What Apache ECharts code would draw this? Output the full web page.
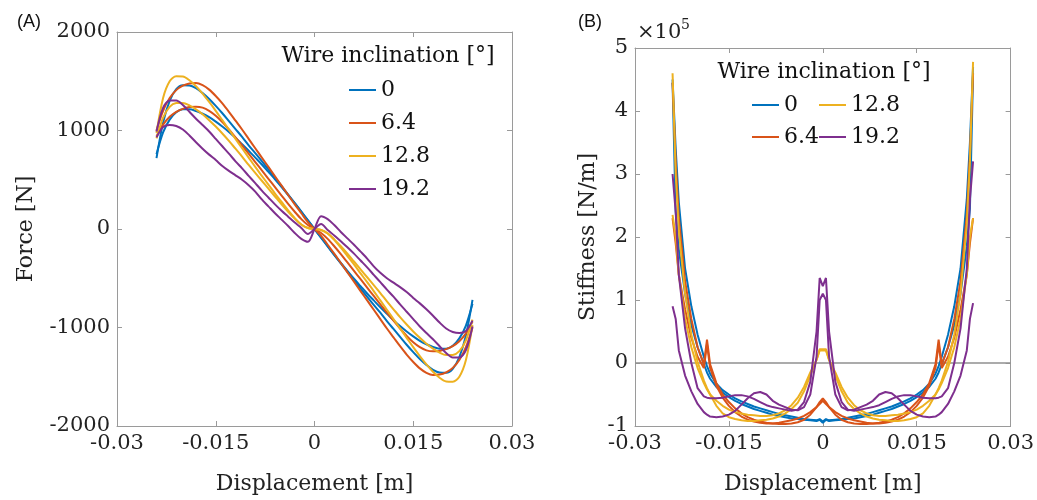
<!DOCTYPE html>
<html>
<head>
<meta charset="utf-8">
<script src="https://cdn.jsdelivr.net/npm/echarts@6/dist/echarts.min.js"></script>
<style>html,body{margin:0;padding:0;background:#fff}#c{width:1037px;height:500px}</style>
</head>
<body>
<div id="c"></div>
<script>
// ---------- data ----------
const seriesNames = ['0', '6.4', '12.8', '19.2'];
const colors = ['#0072BD', '#D95319', '#EDB120', '#7E2F8E'];

const xTickLabels = ['-0.03', '-0.015', '0', '0.015', '0.03'];
const yTickLabelsA = ['-2000', '-1000', '0', '1000', '2000'];
const yTickLabelsB = ['-1', '0', '1', '2', '3', '4', '5'];

// Panel A: displacement [m]
const xA = [-0.024,-0.023,-0.022,-0.021,-0.020,-0.019,-0.018,-0.017,-0.016,-0.015,-0.014,-0.013,-0.012,-0.011,-0.010,-0.009,-0.008,-0.007,-0.006,-0.005,-0.004,-0.003,-0.002,-0.001,0,0.001,0.002,0.003,0.004,0.005,0.006,0.007,0.008,0.009,0.010,0.011,0.012,0.013,0.014,0.015,0.016,0.017,0.018,0.019,0.020,0.021,0.022,0.023,0.024];

// Force [N], two curves per wire inclination
const forceBlue1 = [720,1080,1300,1420,1460,1458,1430,1380,1320,1250,1175,1095,1015,935,850,770,690,605,520,435,350,262,175,88,0,-88,-175,-262,-350,-435,-520,-605,-690,-770,-850,-935,-1015,-1095,-1175,-1250,-1320,-1380,-1430,-1458,-1460,-1420,-1300,-1080,-720];
const forceBlue2 = [760,980,1110,1185,1215,1215,1198,1170,1135,1090,1040,985,925,860,795,725,655,580,505,425,345,262,176,88,0,-88,-176,-262,-345,-425,-505,-580,-655,-725,-795,-860,-925,-985,-1040,-1090,-1135,-1170,-1198,-1215,-1215,-1185,-1110,-980,-760];
const forceOrange1 = [1000,1200,1330,1410,1455,1478,1482,1460,1415,1350,1275,1190,1100,1010,915,820,725,630,535,440,345,250,160,70,0,-70,-160,-250,-345,-440,-535,-630,-725,-820,-915,-1010,-1100,-1190,-1275,-1350,-1415,-1460,-1482,-1478,-1455,-1410,-1330,-1200,-1000];
const forceOrange2 = [940,1060,1140,1190,1220,1238,1242,1232,1200,1150,1085,1010,930,850,765,680,595,510,425,340,255,175,100,40,0,-40,-100,-175,-255,-340,-425,-510,-595,-680,-765,-850,-930,-1010,-1085,-1150,-1200,-1232,-1242,-1238,-1220,-1190,-1140,-1060,-940];
const forceYellow1 = [975,1330,1500,1550,1548,1510,1450,1375,1290,1200,1105,1010,915,820,725,630,540,450,360,275,190,110,45,10,0,-10,-45,-110,-190,-275,-360,-450,-540,-630,-725,-820,-915,-1010,-1105,-1200,-1290,-1375,-1450,-1510,-1548,-1550,-1500,-1330,-975];
const forceYellow2 = [920,1130,1240,1278,1280,1255,1215,1165,1105,1040,970,895,815,735,650,570,490,410,330,250,175,105,45,10,0,-10,-45,-105,-175,-250,-330,-410,-490,-570,-650,-735,-815,-895,-970,-1040,-1105,-1165,-1215,-1255,-1280,-1278,-1240,-1130,-920];
const forcePurple1 = [990,1230,1305,1305,1260,1190,1120,1055,990,915,840,765,687,615,540,465,390,320,250,185,125,65,10,-50,0,50,-10,-65,-125,-185,-250,-320,-390,-465,-540,-615,-687,-765,-840,-915,-990,-1055,-1120,-1190,-1260,-1305,-1305,-1230,-990];
const forcePurple2 = [930,1035,1056,1045,1010,950,880,815,755,700,640,590,545,500,445,380,300,230,160,95,30,-40,-100,-130,0,130,100,40,-30,-95,-160,-230,-300,-380,-445,-500,-545,-590,-640,-700,-755,-815,-880,-950,-1010,-1045,-1056,-1035,-930];

// Panel B: displacement [m]
const xB = [-0.024,-0.0235,-0.023,-0.022,-0.021,-0.020,-0.019,-0.0185,-0.018,-0.017,-0.016,-0.015,-0.014,-0.013,-0.012,-0.011,-0.010,-0.009,-0.008,-0.007,-0.006,-0.005,-0.004,-0.003,-0.002,-0.001,-0.0005,0,0.0005,0.001,0.002,0.003,0.004,0.005,0.006,0.007,0.008,0.009,0.010,0.011,0.012,0.013,0.014,0.015,0.016,0.017,0.018,0.0185,0.019,0.020,0.021,0.022,0.023,0.0235,0.024];

// Stiffness [x 1e5 N/m]
const stiffBlue1 = [4.5,3.4,2.55,1.5,0.9,0.45,0.1,-0.05,-0.17,-0.33,-0.43,-0.5,-0.56,-0.61,-0.65,-0.69,-0.72,-0.75,-0.78,-0.81,-0.83,-0.85,-0.87,-0.89,-0.9,-0.91,-0.89,-0.93,-0.89,-0.91,-0.9,-0.89,-0.87,-0.85,-0.83,-0.81,-0.78,-0.75,-0.72,-0.69,-0.65,-0.61,-0.56,-0.5,-0.43,-0.33,-0.17,-0.05,0.1,0.45,0.9,1.5,2.6,3.5,4.7];
const stiffBlue2 = [4.45,2.4,1.8,1.1,0.6,0.25,-0.02,-0.15,-0.25,-0.38,-0.47,-0.54,-0.6,-0.65,-0.69,-0.73,-0.76,-0.79,-0.82,-0.84,-0.86,-0.88,-0.89,-0.9,-0.91,-0.92,-0.9,-0.95,-0.9,-0.92,-0.91,-0.9,-0.89,-0.88,-0.86,-0.84,-0.82,-0.79,-0.76,-0.73,-0.69,-0.65,-0.6,-0.54,-0.47,-0.38,-0.25,-0.15,-0.02,0.25,0.6,1.1,1.85,2.45,4.6];
const stiffOrange1 = [4.45,3.2,2.3,1.3,0.7,0.25,-0.02,0.37,-0.02,-0.32,-0.5,-0.62,-0.72,-0.8,-0.86,-0.9,-0.93,-0.95,-0.96,-0.97,-0.97,-0.96,-0.94,-0.9,-0.82,-0.7,-0.62,-0.56,-0.62,-0.7,-0.82,-0.9,-0.94,-0.96,-0.97,-0.97,-0.96,-0.95,-0.93,-0.9,-0.86,-0.8,-0.72,-0.62,-0.5,-0.32,-0.02,0.37,-0.02,0.25,0.7,1.3,2.35,3.3,4.6];
const stiffOrange2 = [2.3,1.9,1.4,0.85,0.4,0.1,-0.08,0.3,-0.08,-0.36,-0.55,-0.68,-0.78,-0.85,-0.9,-0.93,-0.95,-0.96,-0.96,-0.95,-0.93,-0.91,-0.88,-0.84,-0.78,-0.7,-0.65,-0.6,-0.65,-0.7,-0.78,-0.84,-0.88,-0.91,-0.93,-0.95,-0.96,-0.96,-0.95,-0.93,-0.9,-0.85,-0.78,-0.68,-0.55,-0.36,-0.08,0.3,-0.08,0.1,0.4,0.85,1.4,1.9,2.3];
const stiffYellow1 = [4.6,3.0,2.1,1.1,0.45,0.02,-0.28,-0.4,-0.5,-0.68,-0.8,-0.86,-0.89,-0.91,-0.92,-0.92,-0.91,-0.9,-0.88,-0.85,-0.8,-0.73,-0.63,-0.45,-0.2,0.05,0.22,0.22,0.22,0.05,-0.2,-0.45,-0.63,-0.73,-0.8,-0.85,-0.88,-0.9,-0.91,-0.92,-0.92,-0.91,-0.89,-0.86,-0.8,-0.68,-0.5,-0.4,-0.28,0.02,0.45,1.1,2.2,3.2,4.78];
const stiffYellow2 = [2.35,2.0,1.4,0.7,0.25,-0.08,-0.32,-0.42,-0.5,-0.6,-0.68,-0.74,-0.78,-0.8,-0.82,-0.83,-0.84,-0.84,-0.83,-0.8,-0.75,-0.67,-0.55,-0.38,-0.15,0.05,0.2,0.2,0.2,0.05,-0.15,-0.38,-0.55,-0.67,-0.75,-0.8,-0.83,-0.84,-0.84,-0.83,-0.82,-0.8,-0.78,-0.74,-0.68,-0.6,-0.5,-0.42,-0.32,-0.08,0.25,0.7,1.4,2.0,2.3];
const stiffPurple1 = [3.0,2.4,1.4,0.55,0.0,-0.4,-0.53,-0.55,-0.56,-0.56,-0.55,-0.53,-0.51,-0.51,-0.53,-0.57,-0.62,-0.67,-0.7,-0.72,-0.74,-0.76,-0.74,-0.62,-0.3,0.5,1.35,1.22,1.35,0.5,-0.3,-0.62,-0.74,-0.76,-0.74,-0.72,-0.7,-0.67,-0.62,-0.57,-0.53,-0.51,-0.51,-0.53,-0.55,-0.56,-0.56,-0.55,-0.53,-0.4,0.0,0.55,1.5,2.6,3.2];
const stiffPurple2 = [0.9,0.7,0.2,-0.2,-0.45,-0.65,-0.78,-0.82,-0.85,-0.86,-0.85,-0.82,-0.76,-0.66,-0.56,-0.48,-0.46,-0.5,-0.6,-0.66,-0.7,-0.74,-0.75,-0.7,-0.5,0.1,1.0,1.1,1.0,0.1,-0.5,-0.7,-0.75,-0.74,-0.7,-0.66,-0.6,-0.5,-0.46,-0.48,-0.56,-0.66,-0.76,-0.82,-0.85,-0.86,-0.85,-0.82,-0.78,-0.65,-0.45,-0.2,0.2,0.7,0.95];

const zeroLineX = [-0.03, 0.03];
const zeroLineY = [0, 0];

// ---------- chart ----------
const FONT = 'DejaVu Serif';
const AX = '#9a9a9a';
const TXT = '#222';

function pairs(xs, ys) { return xs.map((x, i) => [x, ys[i]]); }
function labelFrom(list, min, step) {
  return v => { const i = Math.round((v - min) / step); return list[i] !== undefined ? list[i] : ''; };
}

function axisCommon(min, max, interval, showLabel, fmt, margin) {
  return {
    type: 'value', min: min, max: max, interval: interval,
    axisLine: { show: true, onZero: false, lineStyle: { color: AX, width: 1 } },
    axisTick: { show: true, inside: true, length: 5, lineStyle: { color: AX, width: 1 } },
    splitLine: { show: false },
    axisLabel: { show: showLabel, fontFamily: FONT, fontSize: 21, color: TXT, margin: margin, formatter: fmt }
  };
}

const xFmt = labelFrom(xTickLabels, -0.03, 0.015);
const yFmtA = labelFrom(yTickLabelsA, -2000, 1000);
const yFmtB = labelFrom(yTickLabelsB, -1, 1);

const nameStyle = { fontFamily: FONT, fontSize: 22, color: TXT };
const xAxes = [
  Object.assign(axisCommon(-0.03, 0.03, 0.015, true, xFmt, 7), { gridIndex: 0, position: 'bottom', name: 'Displacement [m]', nameLocation: 'middle', nameGap: 47, nameTextStyle: nameStyle }),
  Object.assign(axisCommon(-0.03, 0.03, 0.015, false, xFmt, 7), { gridIndex: 0, position: 'top' }),
  Object.assign(axisCommon(-0.03, 0.03, 0.015, true, xFmt, 7), { gridIndex: 1, position: 'bottom', name: 'Displacement [m]', nameLocation: 'middle', nameGap: 47, nameTextStyle: nameStyle }),
  Object.assign(axisCommon(-0.03, 0.03, 0.015, false, xFmt, 7), { gridIndex: 1, position: 'top' })
];
const yAxes = [
  Object.assign(axisCommon(-2000, 2000, 1000, true, yFmtA, 7), { gridIndex: 0, position: 'left', name: 'Force [N]', nameLocation: 'middle', nameGap: 80, nameTextStyle: nameStyle }),
  Object.assign(axisCommon(-2000, 2000, 1000, false, yFmtA, 7), { gridIndex: 0, position: 'right' }),
  Object.assign(axisCommon(-1, 5, 1, true, yFmtB, 7), { gridIndex: 1, position: 'left', name: 'Stiffness [N/m]', nameLocation: 'middle', nameGap: 36, nameTextStyle: nameStyle }),
  Object.assign(axisCommon(-1, 5, 1, false, yFmtB, 7), { gridIndex: 1, position: 'right' })
];

const forceSets = [[forceBlue1, forceBlue2], [forceOrange1, forceOrange2], [forceYellow1, forceYellow2], [forcePurple1, forcePurple2]];
const stiffSets = [[stiffBlue1, stiffBlue2], [stiffOrange1, stiffOrange2], [stiffYellow1, stiffYellow2], [stiffPurple1, stiffPurple2]];

const series = [];
series.push({
  name: 'zero', type: 'line', xAxisIndex: 2, yAxisIndex: 2, data: pairs(zeroLineX, zeroLineY),
  symbol: 'none', silent: true, lineStyle: { color: '#8f8f8f', width: 1.5 }, z: 1
});
forceSets.forEach((set, k) => set.forEach(ys => series.push({
  name: seriesNames[k], type: 'line', xAxisIndex: 0, yAxisIndex: 0, data: pairs(xA, ys),
  symbol: 'none', showSymbol: false, smooth: 0.3, color: colors[k],
  lineStyle: { color: colors[k], width: 2 }, z: 2
})));
stiffSets.forEach((set, k) => set.forEach(ys => series.push({
  name: seriesNames[k], type: 'line', xAxisIndex: 2, yAxisIndex: 2, data: pairs(xB, ys),
  symbol: 'none', showSymbol: false, color: colors[k],
  lineStyle: { color: colors[k], width: 2 }, z: 2
})));

const legendText = { fontFamily: FONT, fontSize: 22, color: '#111' };
const legendBase = { orient: 'vertical', padding: 0, icon: 'rect', itemWidth: 27, itemHeight: 2, textStyle: legendText, selectedMode: false };
const option = {
  animation: false,
  backgroundColor: '#fff',
  grid: [
    { left: 117, top: 32, width: 395, height: 394 },
    { left: 635, top: 48, width: 378, height: 378 }
  ],
  xAxis: xAxes,
  yAxis: yAxes,
  legend: [
    Object.assign({ data: ['0', '6.4', '12.8', '19.2'], left: 349, top: 79, itemGap: 11 }, legendBase),
    Object.assign({ data: ['0', '6.4'], left: 752, top: 94, itemGap: 10 }, legendBase),
    Object.assign({ data: ['12.8', '19.2'], left: 819, top: 94, itemGap: 10 }, legendBase)
  ],
  graphic: [
    { type: 'text', x: 29, y: 22, style: { text: '(A)', font: '18px "Liberation Sans"', fill: '#111', align: 'center', verticalAlign: 'middle' } },
    { type: 'text', x: 590, y: 22, style: { text: '(B)', font: '18px "Liberation Sans"', fill: '#111', align: 'center', verticalAlign: 'middle' } },
    { type: 'text', x: 388, y: 56, style: { text: 'Wire inclination [°]', font: '22px "DejaVu Serif"', fill: '#111', align: 'center', verticalAlign: 'middle' } },
    { type: 'text', x: 824, y: 72, style: { text: 'Wire inclination [°]', font: '22px "DejaVu Serif"', fill: '#111', align: 'center', verticalAlign: 'middle' } },
    { type: 'text', x: 637, y: 33, style: { text: '×10', font: '21px "DejaVu Serif"', fill: TXT, align: 'left', verticalAlign: 'middle' } },
    { type: 'text', x: 681, y: 25, style: { text: '5', font: '14px "DejaVu Serif"', fill: TXT, align: 'left', verticalAlign: 'middle' } }
  ],
  series: series
};

const chart = echarts.init(document.getElementById('c'), null, { renderer: 'canvas' });
chart.setOption(option);
</script>
</body>
</html>
